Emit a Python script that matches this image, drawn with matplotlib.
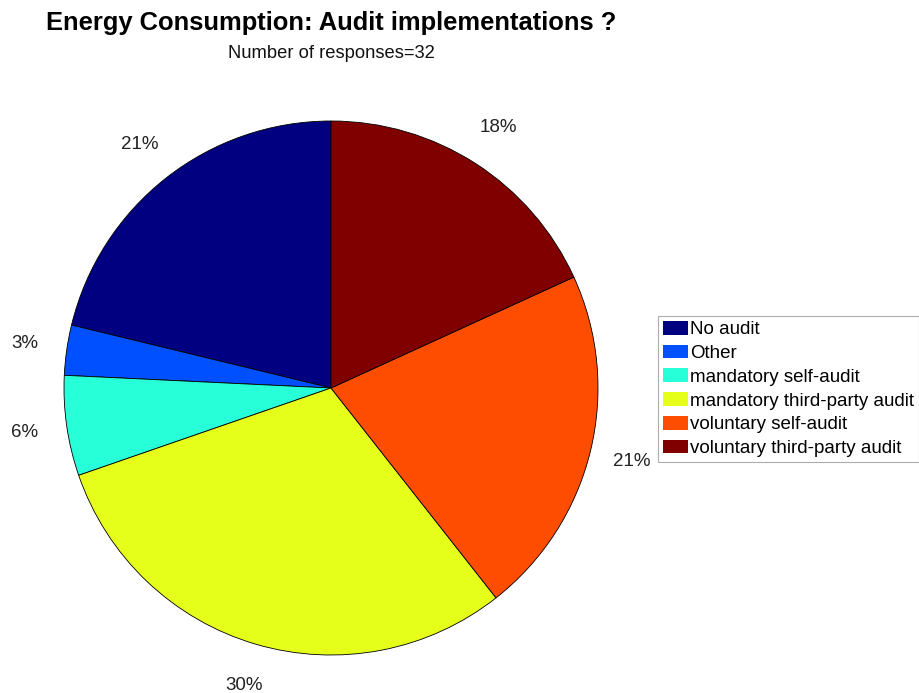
import matplotlib.pyplot as plt

plt.rcParams['font.family'] = ['Liberation Sans', 'DejaVu Sans']

# audit categories and their share of responses (percent)
categories = ['No audit', 'Other', 'mandatory self-audit',
              'mandatory third-party audit', 'voluntary self-audit',
              'voluntary third-party audit']
shares = [21, 3, 6, 30, 21, 18]
pct_labels = ['21%', '3%', '6%', '30%', '21%', '18%']
n_responses = 32

# jet-like palette
colors = ['#000080', '#0050ff', '#26ffd8', '#e5ff1a', '#ff4d00', '#800000']

fig = plt.figure(figsize=(9.2, 6.93), dpi=100)
ax = fig.add_axes([64 / 920, 38 / 693, 534 / 920, 534 / 693])

wedges, texts = ax.pie(shares, labels=pct_labels, colors=colors,
                       startangle=90, counterclock=True, labeldistance=1.16,
                       wedgeprops=dict(edgecolor='black', linewidth=0.6),
                       textprops=dict(fontsize=13.5, color='#222222'))
for t in texts:
    t.set_horizontalalignment('center')
    t.set_verticalalignment('center')
    t.set_clip_on(False)
ax.set_xlim(-1, 1)
ax.set_ylim(-1, 1)
ax.set_aspect('equal')

fig.text(331 / 920, 1 - 23 / 693, 'Energy Consumption: Audit implementations ?',
         ha='center', va='center', fontsize=18.4, fontweight='bold')
fig.text(331 / 920, 1 - 53 / 693, 'Number of responses=%d' % n_responses,
         ha='center', va='center', fontsize=13.2, color='#111111')

leg = fig.legend(wedges, categories, loc='center left',
                 bbox_to_anchor=(658 / 920, 1 - 389 / 693),
                 fontsize=13.5, handlelength=1.35, handleheight=0.75,
                 handletextpad=0.1, labelspacing=0.34, borderpad=0.25,
                 borderaxespad=0, fancybox=False, frameon=True)
leg.get_frame().set_edgecolor('#999999')
leg.get_frame().set_linewidth(0.8)
for h in leg.legend_handles:
    h.set_edgecolor('none')

fig.savefig('out.png', dpi=100)
